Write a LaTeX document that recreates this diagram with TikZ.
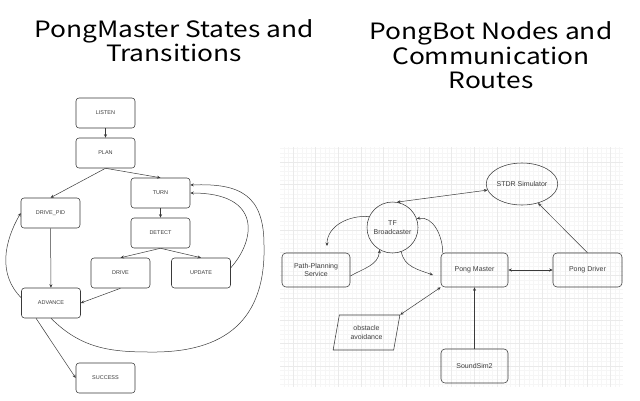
\documentclass[tikz,border=0pt]{standalone}
\usepackage{fontspec}
\setmainfont{Liberation Sans}
\newfontfamily\titlefont[FakeStretch=1.17]{Noto Sans CJK JP}
\usetikzlibrary{arrows.meta,shapes.geometric}

\definecolor{boxline}{HTML}{3A3A3A}
\definecolor{labeltext}{HTML}{3C3C3C}
\definecolor{gridminor}{HTML}{F6F6F6}
\definecolor{gridmajor}{HTML}{EAEAEA}

\tikzset{
  titletext/.style={align=center,inner sep=0pt,font=\titlefont\fontsize{22.5}{24.5}\selectfont},
  statebox/.style={draw=boxline,rounded corners=3pt,line width=0.55pt,minimum width=59pt,minimum height=30pt,inner sep=0pt,text=labeltext,font=\fontsize{5.5}{6}\selectfont},
  rosbox/.style={draw=boxline,rounded corners=4pt,line width=0.55pt,minimum width=67pt,minimum height=34pt,inner sep=0pt,align=center,text=labeltext,font=\fontsize{7}{8.5}\selectfont},
  trans/.style={draw=boxline,line width=0.5pt,-{Stealth[length=3.5pt,width=3pt]}},
  route/.style={trans},
  duplex/.style={trans,{Stealth[length=3.5pt,width=3pt]}-{Stealth[length=3.5pt,width=3pt]}}
}

\begin{document}
\begin{tikzpicture}[x=1pt,y=1pt]
\useasboundingbox (0,0) rectangle (640,-400);

% titles
\node[titletext] (lefttitle) at (174,-40.5) {PongMaster States and\\Transitions};
\node[titletext] (righttitle) at (491,-55.5) {PongBot Nodes and\\Communication\\Routes};

% grid behind the node graph
\foreach \i in {0,...,74}{
\draw[gridminor,line width=0.4pt] ({283.93+4.5333*\i},-147) -- ({283.93+4.5333*\i},-387);
}
\foreach \i in {0,...,52}{
\draw[gridminor,line width=0.4pt] (280,{-148.4-4.5333*\i}) -- (623,{-148.4-4.5333*\i});
}
\foreach \j in {0,...,14}{
\draw[gridmajor,line width=0.5pt] ({293+22.667*\j},-147) -- ({293+22.667*\j},-387);
}
\foreach \j in {0,...,9}{
\draw[gridmajor,line width=0.5pt] (280,{-162-22.667*\j}) -- (623,{-162-22.667*\j});
}

% state machine
\node[statebox] (listen) at (105.5,-113) {LISTEN};
\node[statebox] (plan) at (105.5,-153) {PLAN};
\node[statebox] (turn) at (160.5,-193) {TURN};
\node[statebox] (drivepid) at (50.5,-213) {DRIVE\_PID};
\node[statebox] (detect) at (160.5,-233) {DETECT};
\node[statebox] (drive) at (120.5,-273) {DRIVE};
\node[statebox] (update) at (201,-273) {UPDATE};
\node[statebox] (advance) at (51,-303) {ADVANCE};
\node[statebox] (success) at (105.5,-378) {SUCCESS};

\draw[trans] (listen) -- (plan);
\draw[trans] (plan.south) -- (drivepid.north);
\draw[trans] (plan.south) -- (turn.north);
\draw[trans] (turn) -- (detect);
\draw[trans] (detect.south) -- (drive.north);
\draw[trans] (detect.south) -- (update.north);
\draw[trans] (drive.south) -- (advance.east);
\draw[trans] (drivepid) -- (advance);
\draw[trans] ([xshift=-15pt]advance.south) -- (success.west);
\draw[trans] (advance.170) to[out=135,in=240] (drivepid.west);
\draw[trans] (update.10) .. controls +(25,28) and +(72,0) .. (turn.east);
\draw[trans] (advance.south) .. controls +(30,-30) and +(-40,0) .. (150,-352)
  .. controls (225,-353) and (266,-320) .. (264,-245)
  .. controls (264,-195) and (240,-183) .. (turn.15);

% node graph
\node[rosbox,ellipse,minimum width=61pt,minimum height=42pt] (stdr) at (522,-184) {STDR Simulator};
\node[rosbox,circle,minimum size=51pt] (tf) at (392.5,-227.5) {TF\\Broadcaster};
\node[rosbox,minimum width=68pt] (pathplan) at (316,-270) {Path-Planning\\Service};
\node[rosbox] (pongmaster) at (474.5,-270) {Pong Master};
\node[rosbox,minimum width=69pt] (pongdriver) at (587.5,-270) {Pong Driver};
\node[rosbox,rounded corners=0pt,trapezium,trapezium left angle=75,trapezium right angle=105,trapezium stretches=true,minimum width=67pt,minimum height=35pt] (obstacle) at (366.5,-332.5) {obstacle\\avoidance};
\node[rosbox] (soundsim) at (474.5,-366) {SoundSim2};

\coordinate (ppin) at (327,-246);
\coordinate (pmin) at (433,-275);

\draw[duplex] (tf.80) -- (stdr.190);
\draw[route] (pongdriver.north) -- (stdr.-50);
\draw[route] (tf.155) to[out=175,in=90] (ppin);
\draw[route] (pathplan.-10) to[out=30,in=-95] (tf.240);
\draw[route] (tf.-70) to[out=-80,in=160] (pmin);
\draw[route] ([xshift=2pt]pongmaster.north west) to[out=90,in=10] (tf.20);
\draw[duplex] (pongmaster.east) -- (pongdriver.west);
\draw[duplex] (obstacle.top right corner) -- (pongmaster.south west);
\draw[route] (soundsim) -- (pongmaster);
\end{tikzpicture}
\end{document}
